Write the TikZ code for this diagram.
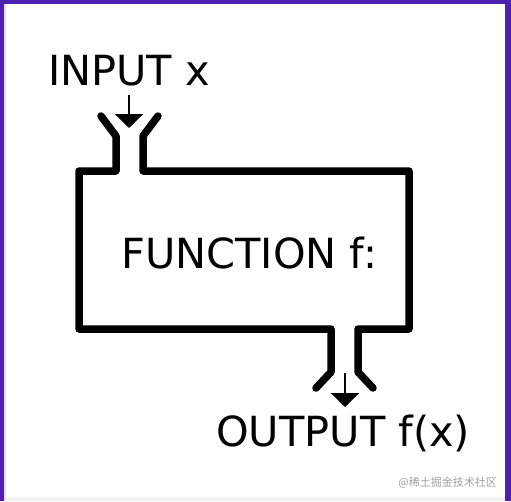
\documentclass[tikz,border=0pt]{standalone}
\usepackage{fontspec}
\setmainfont{DejaVu Sans}
\newfontfamily\cjkfont{Noto Sans CJK SC}
\usetikzlibrary{arrows.meta}
\definecolor{framepurple}{RGB}{78,32,178}
\definecolor{framepink}{RGB}{236,214,250}
\definecolor{wmgray}{RGB}{160,160,160}
\begin{document}
\begin{tikzpicture}[x=1pt,y=-1pt,
  label text/.style={inner sep=0pt,anchor=base west,font=\fontsize{41.5}{48}\selectfont},
  outline/.style={line width=7.5pt,line cap=round,line join=round},
  flow arrow/.style={line width=2.6pt,-{Triangle[width=28pt,length=14pt]}}]
\useasboundingbox (0,0) rectangle (511,501);
% background and frame
\fill[white] (0,0) rectangle (511,501);
\fill[black!4] (0,497) rectangle (511,501);
\fill[framepink] (4,0) rectangle (6,501);
\fill[framepurple] (0,0) rectangle (4,501);
\fill[framepurple] (505,0) rectangle (511,501);
\fill[framepurple] (0,0) rectangle (511,4);
% texts
\node[label text] (in) at (48,85) {INPUT x};
\node[label text] (fn) at (121,268) {FUNCTION f:};
\node[label text] (out) at (216,446) {OUTPUT f(x)};
\node[inner sep=0pt,anchor=base east,text=wmgray,font=\cjkfont\fontsize{11}{13}\selectfont] (wm) at (497,486) {@稀土掘金技术社区};
% coordinates
\coordinate (inA) at (129,95);
\coordinate (inB) at (129,128);
\coordinate (outA) at (345,373);
\coordinate (outB) at (345,407);
% machine outline
\draw[outline] (101,116) -- (116,136) -- (116,171) -- (79,171) -- (79,329)
  -- (331,329) -- (331,372) -- (316,388);
\draw[outline] (158,116) -- (143,136) -- (143,171) -- (409,171) -- (409,329)
  -- (358,329) -- (358,372) -- (373,388);
% arrows
\draw[flow arrow] (inA) -- (inB);
\draw[flow arrow] (outA) -- (outB);
\end{tikzpicture}
\end{document}
